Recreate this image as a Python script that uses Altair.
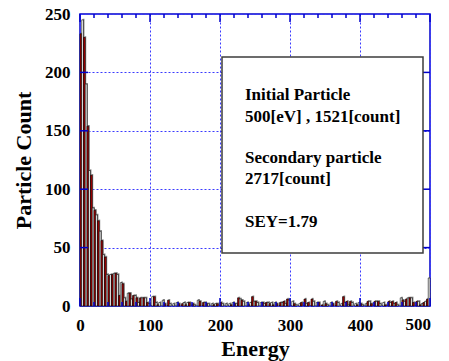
import altair as alt
import pandas as pd

# Histogram of emitted particle energies, 2.5 eV per bin (0-500 eV)
BIN_WIDTH = 2.5
counts = [
    233, 245, 230, 190, 154, 116, 112,
    84, 82, 78, 73, 64, 56, 44, 42,
    27, 26, 27, 27, 28, 28, 27,
    9, 20, 19, 7, 4, 11, 11, 6, 9, 9,
    7, 3, 7, 7, 7, 7, 3, 2, 0, 8,
    8, 3, 1, 3, 0, 5, 2, 0, 5, 2,
    0, 2, 0, 3, 2,
    0, 2, 3, 1, 3, 3, 0, 2, 1, 0,
    5, 4, 0, 3, 3, 2, 2, 0, 2, 1,
    2, 2, 0, 3, 2, 0, 2, 0, 2, 1,
    3, 2, 2, 7, 6, 5, 4, 0, 3, 1,
    3, 8, 4,
    4, 3, 0, 3, 3, 2, 3, 3, 2, 3,
    1, 3, 2, 0, 3, 3, 4, 2, 6, 5,
    0, 4, 2, 1, 0, 2, 3, 0, 6, 2,
    3, 0, 6, 4, 0, 3, 3, 0, 1, 4,
    2, 1, 0, 3, 2, 0, 4, 3, 0, 2,
    8, 3, 4, 1, 4, 3, 0, 2, 1, 3,
    2, 1, 0, 2, 4, 4, 2, 0, 4, 4,
    4, 2, 0, 3, 1, 0, 4, 3, 4, 2,
    3, 1, 0, 7, 5, 4, 6, 7, 7, 7,
    3, 0, 4, 4, 1, 2, 3, 4, 6, 24,
]

x_major = [0, 100, 200, 300, 400, 500]
x_minor = [v for v in range(20, 500, 20) if v % 100 != 0]
y_major = [50, 100, 150, 200]
y_labels = [0, 50, 100, 150, 200, 250]

info_lines = [
    "Initial Particle",
    "500[eV] , 1521[count]",
    "Secondary particle",
    "2717[count]",
    "SEY=1.79",
]

W, H = 350, 292
FONT = "Liberation Serif"
BLUE = "#0000cc"

x_scale = alt.Scale(domain=[0, 500], nice=False, zero=False)
y_scale = alt.Scale(domain=[0, 250], nice=False)

# the last x label is drawn separately so it can sit flush with the right edge
x_axis = alt.Axis(
    values=x_major, grid=True, ticks=False, tickSize=0, domain=False,
    labelExpr="datum.value >= 500 ? '' : datum.label",
    labelFont=FONT, labelFontWeight="bold", labelFontSize=17, labelColor="black",
    labelPadding=11, labelFlush=False,
    title="Energy", titleFont=FONT, titleFontWeight="bold", titleFontSize=22,
    titleColor="black", titleX=175, titleY=49, titleBaseline="alphabetic",
    gridColor="#3a3aff", gridDash=[2, 2], gridWidth=1,
)
y_axis = alt.Axis(
    values=y_labels, grid=True, ticks=False, tickSize=0, domain=False,
    labelFont=FONT, labelFontWeight="bold", labelFontSize=17, labelColor="black",
    labelPadding=10, labelFlush=False,
    title="Particle Count", titleFont=FONT, titleFontWeight="bold", titleFontSize=22,
    titleColor="black", titleX=-57, titleY=146, titleBaseline="middle", titleAngle=-90,
    gridColor="#3a3aff", gridDash=[2, 2], gridWidth=1,
)


def X(field):
    return alt.X(field, scale=x_scale, axis=x_axis)


def Y(field):
    return alt.Y(field, scale=y_scale, axis=y_axis)


df = pd.DataFrame({"idx": list(range(len(counts))), "count": counts})
base = (
    alt.Chart(df)
    .transform_filter("datum.count > 0")
    .transform_calculate(
        e0=f"datum.idx * {BIN_WIDTH}",
        e1=f"datum.idx * {BIN_WIDTH} + {BIN_WIDTH}",
        series="datum.idx % 2 == 0 ? 'a' : 'b'",
    )
)

# drop shadow behind each bar
shadow = base.transform_calculate(
    sx0="datum.e0 + 1.4", sx1="datum.e1 + 1.4", sy="datum.count + 1"
).mark_rect(color="#8a8a8a", clip=True).encode(
    x=X("sx0:Q"), x2="sx1:Q", y=Y("sy:Q"), y2=alt.datum(0),
)

bars = base.mark_rect(stroke="black", strokeWidth=0.6).encode(
    x=X("e0:Q"), x2="e1:Q", y=Y("count:Q"), y2=alt.datum(0),
    fill=alt.Fill("series:N", scale=alt.Scale(domain=["a", "b"], range=["#b00000", "white"]), legend=None),
)


# inward tick marks on all four sides
def xticks(vals, length):
    d = alt.Chart(pd.DataFrame({"v": vals})).mark_rule(color=BLUE, strokeWidth=1.5)
    bottom = d.encode(x=X("v:Q"), y=alt.value(H), y2=alt.value(H - length))
    top = d.encode(x=X("v:Q"), y=alt.value(0), y2=alt.value(length))
    return [bottom, top]


yd = alt.Chart(pd.DataFrame({"v": y_major})).mark_rule(color=BLUE, strokeWidth=1.5)
yleft = yd.encode(y=Y("v:Q"), x=alt.value(0), x2=alt.value(8))
yright = yd.encode(y=Y("v:Q"), x=alt.value(W), x2=alt.value(W - 8))

x_end = [500]
xlabel_end = alt.Chart(pd.DataFrame({"v": x_end})).mark_text(
    align="right", baseline="top", dx=1, font=FONT, fontWeight="bold", fontSize=17, color="black"
).encode(x=X("v:Q"), y=alt.value(H + 11), text="v:Q")

box = alt.Chart(pd.DataFrame({"a": [0]})).mark_rect(
    fill="white", stroke="#3c3c3c", strokeWidth=1.5
).encode(x=alt.value(142), x2=alt.value(343), y=alt.value(43), y2=alt.value(239))

line_y = [86, 107.5, 149, 170, 212.5]
texts = []
for line, yy in zip(info_lines, line_y):
    texts.append(
        alt.Chart(pd.DataFrame({"t": [line]})).mark_text(
            align="left", baseline="alphabetic", font=FONT, fontWeight="bold",
            fontSize=17, color="black",
        ).encode(x=alt.value(165), y=alt.value(yy), text="t:N")
    )

chart = alt.layer(
    shadow, bars, *xticks(x_major, 8), *xticks(x_minor, 4), yleft, yright,
    xlabel_end, box, *texts
).properties(
    width=W, height=H,
    autosize=alt.AutoSizeParams(type="none"),
    padding={"left": 80, "top": 14, "right": 19, "bottom": 55},
    background="white",
).configure_view(stroke=BLUE, strokeWidth=1.5)

chart.save("out.html", embed_options={"renderer": "svg", "actions": False})
